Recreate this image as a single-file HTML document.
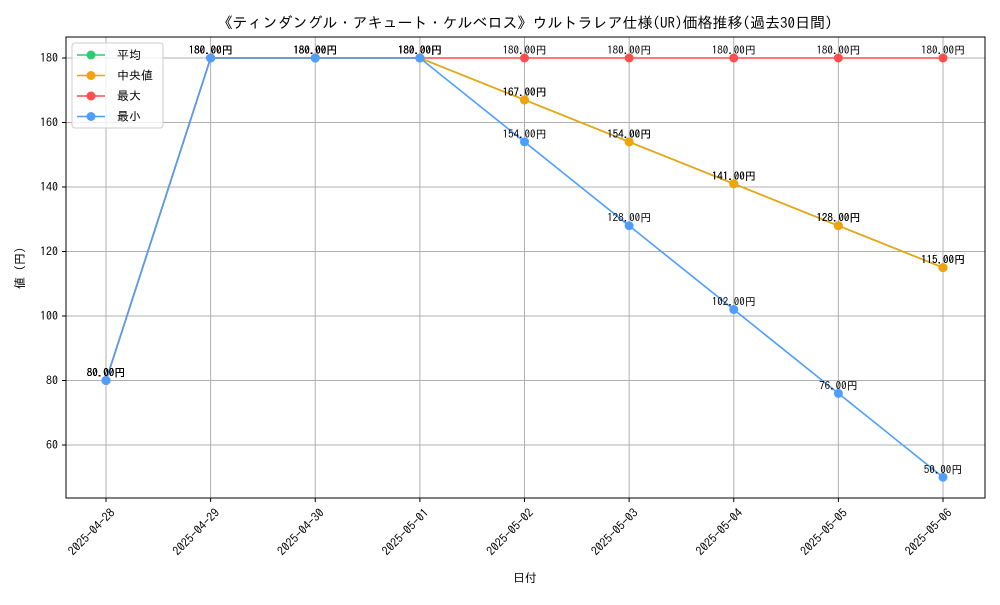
<!DOCTYPE html>
<html><head><meta charset="utf-8"><style>
body{margin:0;background:#fff;}
svg text{font-family:"IPAGothic","Liberation Sans","Noto Sans CJK JP",sans-serif;}
</style></head><body>
<svg id="chart" width="1000" height="600" viewBox="0 0 1000 600">
<rect width="1000" height="600" fill="#fff"/>
<text x="525" y="28" font-size="15" text-anchor="middle">《ティンダングル・アキュート・ケルベロス》ウルトラレア仕様(UR)価格推移(過去30日間)</text>
<g id="grid"></g>
<g id="axes"></g>
<g id="series"></g>
<rect x="66" y="37" width="919" height="461" fill="none" stroke="#000" stroke-width="1"/>
<text x="525" y="582" font-size="12" text-anchor="middle">日付</text>
<text transform="translate(24,268) rotate(-90)" font-size="12" text-anchor="middle">値 (円)</text>
<g id="legend">
<rect x="72" y="43" width="91" height="85" rx="3" fill="#fff" fill-opacity="0.8" stroke="#ccc"/>
</g>
</svg>
<script>
const categories=["2025-04-28","2025-04-29","2025-04-30","2025-05-01","2025-05-02","2025-05-03","2025-05-04","2025-05-05","2025-05-06"];
const meanValues=[80,180,180,180,167,154,141,128,115];
const medianValues=[80,180,180,180,167,154,141,128,115];
const maxValues=[80,180,180,180,180,180,180,180,180];
const minValues=[80,180,180,180,154,128,102,76,50];
const yTicks=[60,80,100,120,140,160,180];
const seriesNames=["平均","中央値","最大","最小"];
const seriesColors=["#2ecc71","#f0a30a","#ff4d4d","#4d9fff"];
const NS="http://www.w3.org/2000/svg";
function xs(i){return 106+i*(943-106)/(categories.length-1);}
function ys(v){return 58+(180-v)*(445-58)/120;}
function mk(tag,attrs,parent){const e=document.createElementNS(NS,tag);for(const k in attrs)e.setAttribute(k,attrs[k]);parent.appendChild(e);return e;}
const grid=document.getElementById('grid'),axes=document.getElementById('axes'),ser=document.getElementById('series'),leg=document.getElementById('legend');
categories.forEach((c,i)=>{
 const x=xs(i);
 const g=mk('line',{x1:x,x2:x,y1:37,y2:498,stroke:'#b0b0b0','stroke-width':1},grid);
 
 
 const t=mk('line',{x1:x,x2:x,y1:498,y2:502,stroke:'#000'},axes);
 
 
 const l=mk('text',{transform:`translate(${x+4},${508}) rotate(-45)`,'font-size':12,'text-anchor':'end','dominant-baseline':'hanging'},axes);
 l.textContent=c;
 
 
});
yTicks.forEach(v=>{
 const y=ys(v);
 const g=mk('line',{x1:66,x2:985,y1:y,y2:y,stroke:'#b0b0b0','stroke-width':1},grid);
 
 
 const t=mk('line',{x1:62,x2:66,y1:y,y2:y,stroke:'#000'},axes);
 
 
 const l=mk('text',{x:58,y:y+4,'font-size':12,'text-anchor':'end'},axes);
 l.textContent=v;
 
 
});
const allSeries=[meanValues,medianValues,maxValues,minValues];
allSeries.forEach((vals,s)=>{
 const pts=vals.map((v,i)=>xs(i)+','+ys(v)).join(' ');
 const pl=mk('polyline',{points:pts,fill:'none',stroke:seriesColors[s],'stroke-width':1.6},ser);
 
 
 vals.forEach((v,i)=>{
  const c=mk('circle',{cx:xs(i),cy:ys(v),r:4.5,fill:seriesColors[s]},ser);
  
  
 });
});
allSeries.forEach((vals,s)=>{
 vals.forEach((v,i)=>{
  const t=mk('text',{x:xs(i),y:ys(v)-4,'font-size':11,'text-anchor':'middle'},ser);
  t.textContent=v.toFixed(2)+'円';
  
  
 });
});
seriesNames.forEach((n,s)=>{
 const y=55+s*20.5;
 const l=mk('line',{x1:77,x2:105,y1:y,y2:y,stroke:seriesColors[s],'stroke-width':1.6},leg);
 
 
 const c=mk('circle',{cx:91,cy:y,r:4.5,fill:seriesColors[s]},leg);
 
 
 const t=mk('text',{x:117,y:y+4,'font-size':12},leg);
 t.textContent=n;
 
 
});
</script>
</body></html>
